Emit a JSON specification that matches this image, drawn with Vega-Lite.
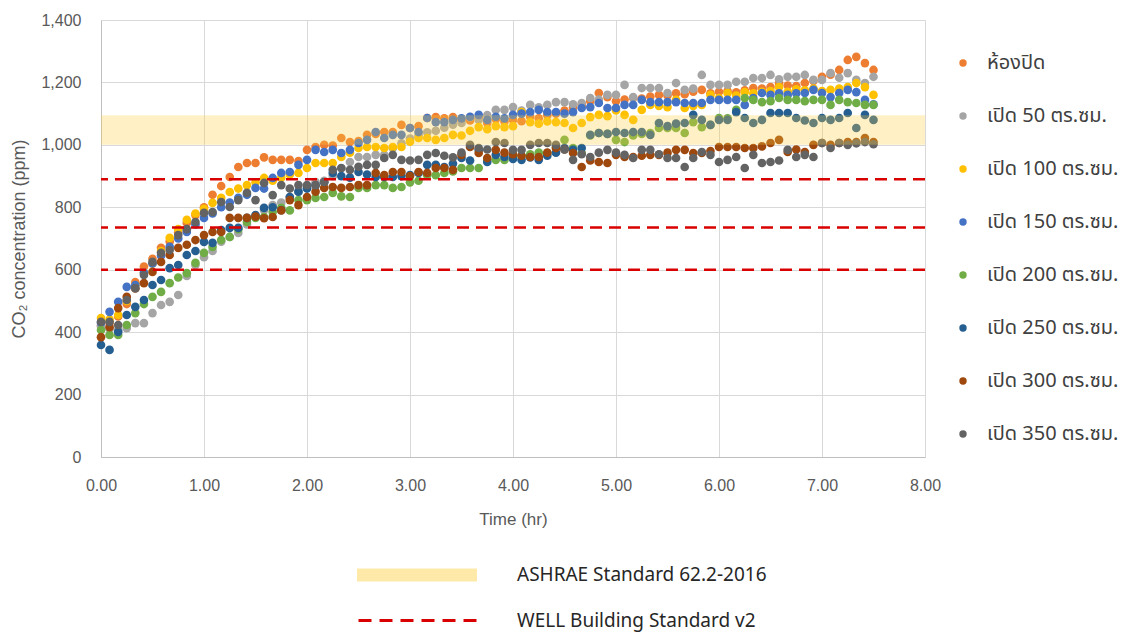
{
"$schema":"https://vega.github.io/schema/vega-lite/v6.json",
"width":824,"height":437,
"autosize":{"type":"none"},
"padding":{"left":101,"top":20,"right":206,"bottom":178},
"background":"white",
"config":{"view":{"stroke":null},
"axis":{"labelFont":"Liberation Sans Narrow, Liberation Sans, sans-serif","titleFont":"Liberation Sans Narrow, Liberation Sans, sans-serif","labelColor":"#595959","titleColor":"#595959","labelFontSize":16,"titleFontSize":17,"titleFontWeight":"normal","ticks":false,"domainColor":"#BFBFBF","gridColor":"#D9D9D9","labelFlush":false,"labelOverlap":false},
"legend":{"labelFont":"Noto Sans Thai, Noto Sans, sans-serif","labelColor":"#404040","labelFontSize":20,"labelLimit":400}},
"datasets":{
"s0":[{"t":0,"v":420},{"t":0.083,"v":430},{"t":0.167,"v":450},{"t":0.25,"v":490},{"t":0.333,"v":560},{"t":0.417,"v":610},{"t":0.5,"v":635},{"t":0.583,"v":670},{"t":0.667,"v":690},{"t":0.75,"v":720},{"t":0.833,"v":750},{"t":0.917,"v":775},{"t":1,"v":800},{"t":1.083,"v":840},{"t":1.167,"v":868},{"t":1.25,"v":897},{"t":1.333,"v":929},{"t":1.417,"v":942},{"t":1.5,"v":942},{"t":1.583,"v":960},{"t":1.667,"v":952},{"t":1.75,"v":952},{"t":1.833,"v":952},{"t":1.917,"v":948},{"t":2,"v":984},{"t":2.083,"v":993},{"t":2.167,"v":1000},{"t":2.25,"v":998},{"t":2.333,"v":1022},{"t":2.417,"v":1009},{"t":2.5,"v":1012},{"t":2.583,"v":1032},{"t":2.667,"v":1035},{"t":2.75,"v":1041},{"t":2.833,"v":1041},{"t":2.917,"v":1064},{"t":3,"v":1054},{"t":3.083,"v":1060},{"t":3.167,"v":1086},{"t":3.25,"v":1089},{"t":3.333,"v":1085},{"t":3.417,"v":1089},{"t":3.5,"v":1080},{"t":3.583,"v":1078},{"t":3.667,"v":1085},{"t":3.75,"v":1070},{"t":3.833,"v":1082},{"t":3.917,"v":1075},{"t":4,"v":1080},{"t":4.083,"v":1076},{"t":4.167,"v":1090},{"t":4.25,"v":1085},{"t":4.333,"v":1095},{"t":4.417,"v":1100},{"t":4.5,"v":1110},{"t":4.583,"v":1120},{"t":4.667,"v":1128},{"t":4.75,"v":1140},{"t":4.833,"v":1166},{"t":4.917,"v":1153},{"t":5,"v":1140},{"t":5.083,"v":1145},{"t":5.167,"v":1150},{"t":5.25,"v":1148},{"t":5.333,"v":1155},{"t":5.417,"v":1160},{"t":5.5,"v":1158},{"t":5.583,"v":1165},{"t":5.667,"v":1162},{"t":5.75,"v":1170},{"t":5.833,"v":1176},{"t":5.917,"v":1165},{"t":6,"v":1170},{"t":6.083,"v":1172},{"t":6.167,"v":1168},{"t":6.25,"v":1175},{"t":6.333,"v":1182},{"t":6.417,"v":1180},{"t":6.5,"v":1185},{"t":6.583,"v":1198},{"t":6.667,"v":1190},{"t":6.75,"v":1188},{"t":6.833,"v":1198},{"t":6.917,"v":1205},{"t":7,"v":1218},{"t":7.083,"v":1225},{"t":7.167,"v":1240},{"t":7.25,"v":1272},{"t":7.333,"v":1282},{"t":7.417,"v":1262},{"t":7.5,"v":1240}],
"s1":[{"t":0,"v":420},{"t":0.083,"v":410},{"t":0.167,"v":408},{"t":0.25,"v":413},{"t":0.333,"v":429},{"t":0.417,"v":429},{"t":0.5,"v":461},{"t":0.583,"v":487},{"t":0.667,"v":497},{"t":0.75,"v":519},{"t":0.833,"v":580},{"t":0.917,"v":615},{"t":1,"v":640},{"t":1.083,"v":660},{"t":1.167,"v":690},{"t":1.25,"v":705},{"t":1.333,"v":718},{"t":1.417,"v":745},{"t":1.5,"v":770},{"t":1.583,"v":791},{"t":1.667,"v":807},{"t":1.75,"v":815},{"t":1.833,"v":833},{"t":1.917,"v":850},{"t":2,"v":862},{"t":2.083,"v":881},{"t":2.167,"v":885},{"t":2.25,"v":900},{"t":2.333,"v":925},{"t":2.417,"v":945},{"t":2.5,"v":961},{"t":2.583,"v":961},{"t":2.667,"v":968},{"t":2.75,"v":968},{"t":2.833,"v":990},{"t":2.917,"v":1005},{"t":3,"v":1020},{"t":3.083,"v":1030},{"t":3.167,"v":1040},{"t":3.25,"v":1045},{"t":3.333,"v":1055},{"t":3.417,"v":1065},{"t":3.5,"v":1070},{"t":3.583,"v":1089},{"t":3.667,"v":1080},{"t":3.75,"v":1095},{"t":3.833,"v":1112},{"t":3.917,"v":1112},{"t":4,"v":1121},{"t":4.083,"v":1110},{"t":4.167,"v":1128},{"t":4.25,"v":1120},{"t":4.333,"v":1128},{"t":4.417,"v":1137},{"t":4.5,"v":1137},{"t":4.583,"v":1130},{"t":4.667,"v":1134},{"t":4.75,"v":1150},{"t":4.833,"v":1145},{"t":4.917,"v":1160},{"t":5,"v":1160},{"t":5.083,"v":1192},{"t":5.167,"v":1153},{"t":5.25,"v":1182},{"t":5.333,"v":1182},{"t":5.417,"v":1182},{"t":5.5,"v":1166},{"t":5.583,"v":1198},{"t":5.667,"v":1176},{"t":5.75,"v":1180},{"t":5.833,"v":1224},{"t":5.917,"v":1192},{"t":6,"v":1192},{"t":6.083,"v":1192},{"t":6.167,"v":1202},{"t":6.25,"v":1202},{"t":6.333,"v":1214},{"t":6.417,"v":1214},{"t":6.5,"v":1224},{"t":6.583,"v":1210},{"t":6.667,"v":1218},{"t":6.75,"v":1218},{"t":6.833,"v":1224},{"t":6.917,"v":1208},{"t":7,"v":1208},{"t":7.083,"v":1230},{"t":7.167,"v":1215},{"t":7.25,"v":1230},{"t":7.333,"v":1208},{"t":7.417,"v":1198},{"t":7.5,"v":1218}],
"s2":[{"t":0,"v":445},{"t":0.083,"v":440},{"t":0.167,"v":455},{"t":0.25,"v":500},{"t":0.333,"v":550},{"t":0.417,"v":590},{"t":0.5,"v":620},{"t":0.583,"v":660},{"t":0.667,"v":702},{"t":0.75,"v":730},{"t":0.833,"v":760},{"t":0.917,"v":780},{"t":1,"v":795},{"t":1.083,"v":814},{"t":1.167,"v":830},{"t":1.25,"v":849},{"t":1.333,"v":860},{"t":1.417,"v":871},{"t":1.5,"v":880},{"t":1.583,"v":894},{"t":1.667,"v":885},{"t":1.75,"v":895},{"t":1.833,"v":905},{"t":1.917,"v":910},{"t":2,"v":926},{"t":2.083,"v":942},{"t":2.167,"v":942},{"t":2.25,"v":942},{"t":2.333,"v":961},{"t":2.417,"v":975},{"t":2.5,"v":990},{"t":2.583,"v":993},{"t":2.667,"v":993},{"t":2.75,"v":990},{"t":2.833,"v":993},{"t":2.917,"v":993},{"t":3,"v":1010},{"t":3.083,"v":1022},{"t":3.167,"v":1022},{"t":3.25,"v":1016},{"t":3.333,"v":1022},{"t":3.417,"v":1032},{"t":3.5,"v":1030},{"t":3.583,"v":1045},{"t":3.667,"v":1057},{"t":3.75,"v":1050},{"t":3.833,"v":1060},{"t":3.917,"v":1057},{"t":4,"v":1060},{"t":4.083,"v":1105},{"t":4.167,"v":1073},{"t":4.25,"v":1068},{"t":4.333,"v":1075},{"t":4.417,"v":1073},{"t":4.5,"v":1070},{"t":4.583,"v":1054},{"t":4.667,"v":1070},{"t":4.75,"v":1089},{"t":4.833,"v":1096},{"t":4.917,"v":1092},{"t":5,"v":1110},{"t":5.083,"v":1096},{"t":5.167,"v":1080},{"t":5.25,"v":1112},{"t":5.333,"v":1128},{"t":5.417,"v":1125},{"t":5.5,"v":1121},{"t":5.583,"v":1144},{"t":5.667,"v":1118},{"t":5.75,"v":1125},{"t":5.833,"v":1128},{"t":5.917,"v":1160},{"t":6,"v":1150},{"t":6.083,"v":1166},{"t":6.167,"v":1158},{"t":6.25,"v":1169},{"t":6.333,"v":1165},{"t":6.417,"v":1170},{"t":6.5,"v":1172},{"t":6.583,"v":1185},{"t":6.667,"v":1170},{"t":6.75,"v":1178},{"t":6.833,"v":1175},{"t":6.917,"v":1180},{"t":7,"v":1172},{"t":7.083,"v":1176},{"t":7.167,"v":1180},{"t":7.25,"v":1185},{"t":7.333,"v":1198},{"t":7.417,"v":1185},{"t":7.5,"v":1160}],
"s3":[{"t":0,"v":430},{"t":0.083,"v":465},{"t":0.167,"v":497},{"t":0.25,"v":545},{"t":0.333,"v":551},{"t":0.417,"v":590},{"t":0.5,"v":620},{"t":0.583,"v":645},{"t":0.667,"v":673},{"t":0.75,"v":700},{"t":0.833,"v":721},{"t":0.917,"v":745},{"t":1,"v":766},{"t":1.083,"v":780},{"t":1.167,"v":800},{"t":1.25,"v":815},{"t":1.333,"v":830},{"t":1.417,"v":840},{"t":1.5,"v":862},{"t":1.583,"v":860},{"t":1.667,"v":894},{"t":1.75,"v":910},{"t":1.833,"v":913},{"t":1.917,"v":936},{"t":2,"v":952},{"t":2.083,"v":984},{"t":2.167,"v":977},{"t":2.25,"v":984},{"t":2.333,"v":974},{"t":2.417,"v":984},{"t":2.5,"v":1006},{"t":2.583,"v":1016},{"t":2.667,"v":1041},{"t":2.75,"v":1022},{"t":2.833,"v":1032},{"t":2.917,"v":1032},{"t":3,"v":1054},{"t":3.083,"v":1041},{"t":3.167,"v":1086},{"t":3.25,"v":1073},{"t":3.333,"v":1073},{"t":3.417,"v":1080},{"t":3.5,"v":1085},{"t":3.583,"v":1090},{"t":3.667,"v":1096},{"t":3.75,"v":1080},{"t":3.833,"v":1090},{"t":3.917,"v":1085},{"t":4,"v":1096},{"t":4.083,"v":1100},{"t":4.167,"v":1105},{"t":4.25,"v":1112},{"t":4.333,"v":1105},{"t":4.417,"v":1105},{"t":4.5,"v":1100},{"t":4.583,"v":1105},{"t":4.667,"v":1118},{"t":4.75,"v":1121},{"t":4.833,"v":1134},{"t":4.917,"v":1118},{"t":5,"v":1118},{"t":5.083,"v":1128},{"t":5.167,"v":1128},{"t":5.25,"v":1144},{"t":5.333,"v":1137},{"t":5.417,"v":1137},{"t":5.5,"v":1137},{"t":5.583,"v":1137},{"t":5.667,"v":1134},{"t":5.75,"v":1134},{"t":5.833,"v":1134},{"t":5.917,"v":1144},{"t":6,"v":1144},{"t":6.083,"v":1144},{"t":6.167,"v":1144},{"t":6.25,"v":1128},{"t":6.333,"v":1150},{"t":6.417,"v":1166},{"t":6.5,"v":1160},{"t":6.583,"v":1165},{"t":6.667,"v":1160},{"t":6.75,"v":1165},{"t":6.833,"v":1166},{"t":6.917,"v":1176},{"t":7,"v":1166},{"t":7.083,"v":1153},{"t":7.167,"v":1166},{"t":7.25,"v":1176},{"t":7.333,"v":1169},{"t":7.417,"v":1144},{"t":7.5,"v":1130}],
"s4":[{"t":0,"v":407},{"t":0.083,"v":391},{"t":0.167,"v":391},{"t":0.25,"v":423},{"t":0.333,"v":461},{"t":0.417,"v":490},{"t":0.5,"v":513},{"t":0.583,"v":529},{"t":0.667,"v":557},{"t":0.75,"v":575},{"t":0.833,"v":589},{"t":0.917,"v":622},{"t":1,"v":654},{"t":1.083,"v":673},{"t":1.167,"v":695},{"t":1.25,"v":705},{"t":1.333,"v":730},{"t":1.417,"v":753},{"t":1.5,"v":766},{"t":1.583,"v":769},{"t":1.667,"v":785},{"t":1.75,"v":798},{"t":1.833,"v":790},{"t":1.917,"v":823},{"t":2,"v":823},{"t":2.083,"v":830},{"t":2.167,"v":833},{"t":2.25,"v":846},{"t":2.333,"v":835},{"t":2.417,"v":833},{"t":2.5,"v":862},{"t":2.583,"v":862},{"t":2.667,"v":871},{"t":2.75,"v":871},{"t":2.833,"v":862},{"t":2.917,"v":865},{"t":3,"v":880},{"t":3.083,"v":885},{"t":3.167,"v":903},{"t":3.25,"v":903},{"t":3.333,"v":910},{"t":3.417,"v":915},{"t":3.5,"v":926},{"t":3.583,"v":926},{"t":3.667,"v":926},{"t":3.75,"v":952},{"t":3.833,"v":952},{"t":3.917,"v":952},{"t":4,"v":968},{"t":4.083,"v":965},{"t":4.167,"v":970},{"t":4.25,"v":975},{"t":4.333,"v":974},{"t":4.417,"v":993},{"t":4.5,"v":1016},{"t":4.583,"v":990},{"t":4.667,"v":974},{"t":4.75,"v":1030},{"t":4.833,"v":1038},{"t":4.917,"v":1035},{"t":5,"v":1016},{"t":5.083,"v":1009},{"t":5.167,"v":1030},{"t":5.25,"v":1035},{"t":5.333,"v":1038},{"t":5.417,"v":1054},{"t":5.5,"v":1054},{"t":5.583,"v":1054},{"t":5.667,"v":1038},{"t":5.75,"v":1073},{"t":5.833,"v":1057},{"t":5.917,"v":1064},{"t":6,"v":1086},{"t":6.083,"v":1085},{"t":6.167,"v":1112},{"t":6.25,"v":1150},{"t":6.333,"v":1144},{"t":6.417,"v":1137},{"t":6.5,"v":1140},{"t":6.583,"v":1150},{"t":6.667,"v":1144},{"t":6.75,"v":1144},{"t":6.833,"v":1140},{"t":6.917,"v":1144},{"t":7,"v":1144},{"t":7.083,"v":1128},{"t":7.167,"v":1144},{"t":7.25,"v":1137},{"t":7.333,"v":1134},{"t":7.417,"v":1128},{"t":7.5,"v":1128}],
"s5":[{"t":0,"v":359},{"t":0.083,"v":343},{"t":0.167,"v":401},{"t":0.25,"v":455},{"t":0.333,"v":481},{"t":0.417,"v":503},{"t":0.5,"v":551},{"t":0.583,"v":567},{"t":0.667,"v":605},{"t":0.75,"v":615},{"t":0.833,"v":647},{"t":0.917,"v":660},{"t":1,"v":689},{"t":1.083,"v":686},{"t":1.167,"v":727},{"t":1.25,"v":734},{"t":1.333,"v":734},{"t":1.417,"v":766},{"t":1.5,"v":775},{"t":1.583,"v":798},{"t":1.667,"v":800},{"t":1.75,"v":791},{"t":1.833,"v":833},{"t":1.917,"v":850},{"t":2,"v":860},{"t":2.083,"v":870},{"t":2.167,"v":880},{"t":2.25,"v":910},{"t":2.333,"v":900},{"t":2.417,"v":895},{"t":2.5,"v":913},{"t":2.583,"v":905},{"t":2.667,"v":897},{"t":2.75,"v":897},{"t":2.833,"v":897},{"t":2.917,"v":900},{"t":3,"v":903},{"t":3.083,"v":910},{"t":3.167,"v":936},{"t":3.25,"v":936},{"t":3.333,"v":929},{"t":3.417,"v":940},{"t":3.5,"v":958},{"t":3.583,"v":950},{"t":3.667,"v":984},{"t":3.75,"v":945},{"t":3.833,"v":968},{"t":3.917,"v":961},{"t":4,"v":955},{"t":4.083,"v":952},{"t":4.167,"v":960},{"t":4.25,"v":952},{"t":4.333,"v":965},{"t":4.417,"v":975},{"t":4.5,"v":990},{"t":4.583,"v":984},{"t":4.667,"v":990},{"t":4.75,"v":1032},{"t":4.833,"v":1038},{"t":4.917,"v":1035},{"t":5,"v":1041},{"t":5.083,"v":1038},{"t":5.167,"v":1041},{"t":5.25,"v":1041},{"t":5.333,"v":1032},{"t":5.417,"v":1070},{"t":5.5,"v":1060},{"t":5.583,"v":1068},{"t":5.667,"v":1070},{"t":5.75,"v":1096},{"t":5.833,"v":1080},{"t":5.917,"v":1064},{"t":6,"v":1080},{"t":6.083,"v":1080},{"t":6.167,"v":1105},{"t":6.25,"v":1086},{"t":6.333,"v":1070},{"t":6.417,"v":1080},{"t":6.5,"v":1102},{"t":6.583,"v":1102},{"t":6.667,"v":1102},{"t":6.75,"v":1086},{"t":6.833,"v":1078},{"t":6.917,"v":1070},{"t":7,"v":1086},{"t":7.083,"v":1080},{"t":7.167,"v":1086},{"t":7.25,"v":1102},{"t":7.333,"v":1054},{"t":7.417,"v":1096},{"t":7.5,"v":1080}],
"s6":[{"t":0,"v":384},{"t":0.083,"v":416},{"t":0.167,"v":477},{"t":0.25,"v":513},{"t":0.333,"v":540},{"t":0.417,"v":557},{"t":0.5,"v":593},{"t":0.583,"v":625},{"t":0.667,"v":647},{"t":0.75,"v":670},{"t":0.833,"v":680},{"t":0.917,"v":695},{"t":1,"v":711},{"t":1.083,"v":721},{"t":1.167,"v":721},{"t":1.25,"v":766},{"t":1.333,"v":766},{"t":1.417,"v":766},{"t":1.5,"v":770},{"t":1.583,"v":765},{"t":1.667,"v":769},{"t":1.75,"v":790},{"t":1.833,"v":823},{"t":1.917,"v":807},{"t":2,"v":833},{"t":2.083,"v":850},{"t":2.167,"v":862},{"t":2.25,"v":865},{"t":2.333,"v":862},{"t":2.417,"v":865},{"t":2.5,"v":871},{"t":2.583,"v":871},{"t":2.667,"v":910},{"t":2.75,"v":903},{"t":2.833,"v":913},{"t":2.917,"v":913},{"t":3,"v":900},{"t":3.083,"v":913},{"t":3.167,"v":910},{"t":3.25,"v":926},{"t":3.333,"v":926},{"t":3.417,"v":920},{"t":3.5,"v":968},{"t":3.583,"v":993},{"t":3.667,"v":974},{"t":3.75,"v":958},{"t":3.833,"v":984},{"t":3.917,"v":975},{"t":4,"v":970},{"t":4.083,"v":965},{"t":4.167,"v":961},{"t":4.25,"v":961},{"t":4.333,"v":975},{"t":4.417,"v":990},{"t":4.5,"v":985},{"t":4.583,"v":974},{"t":4.667,"v":929},{"t":4.75,"v":950},{"t":4.833,"v":945},{"t":4.917,"v":942},{"t":5,"v":968},{"t":5.083,"v":961},{"t":5.167,"v":961},{"t":5.25,"v":965},{"t":5.333,"v":968},{"t":5.417,"v":968},{"t":5.5,"v":975},{"t":5.583,"v":984},{"t":5.667,"v":984},{"t":5.75,"v":974},{"t":5.833,"v":974},{"t":5.917,"v":980},{"t":6,"v":993},{"t":6.083,"v":993},{"t":6.167,"v":993},{"t":6.25,"v":990},{"t":6.333,"v":990},{"t":6.417,"v":995},{"t":6.5,"v":1006},{"t":6.583,"v":1016},{"t":6.667,"v":977},{"t":6.75,"v":985},{"t":6.833,"v":977},{"t":6.917,"v":1000},{"t":7,"v":1006},{"t":7.083,"v":1000},{"t":7.167,"v":1006},{"t":7.25,"v":1009},{"t":7.333,"v":1009},{"t":7.417,"v":1022},{"t":7.5,"v":1009}],
"s7":[{"t":0,"v":433},{"t":0.083,"v":433},{"t":0.167,"v":423},{"t":0.25,"v":503},{"t":0.333,"v":541},{"t":0.417,"v":583},{"t":0.5,"v":625},{"t":0.583,"v":654},{"t":0.667,"v":663},{"t":0.75,"v":711},{"t":0.833,"v":730},{"t":0.917,"v":753},{"t":1,"v":782},{"t":1.083,"v":785},{"t":1.167,"v":817},{"t":1.25,"v":801},{"t":1.333,"v":823},{"t":1.417,"v":846},{"t":1.5,"v":823},{"t":1.583,"v":878},{"t":1.667,"v":839},{"t":1.75,"v":871},{"t":1.833,"v":860},{"t":1.917,"v":871},{"t":2,"v":871},{"t":2.083,"v":871},{"t":2.167,"v":881},{"t":2.25,"v":920},{"t":2.333,"v":926},{"t":2.417,"v":920},{"t":2.5,"v":930},{"t":2.583,"v":936},{"t":2.667,"v":936},{"t":2.75,"v":958},{"t":2.833,"v":968},{"t":2.917,"v":952},{"t":3,"v":950},{"t":3.083,"v":952},{"t":3.167,"v":968},{"t":3.25,"v":974},{"t":3.333,"v":965},{"t":3.417,"v":960},{"t":3.5,"v":975},{"t":3.583,"v":1000},{"t":3.667,"v":990},{"t":3.75,"v":985},{"t":3.833,"v":1009},{"t":3.917,"v":1006},{"t":4,"v":984},{"t":4.083,"v":984},{"t":4.167,"v":1000},{"t":4.25,"v":1006},{"t":4.333,"v":1006},{"t":4.417,"v":1000},{"t":4.5,"v":985},{"t":4.583,"v":952},{"t":4.667,"v":970},{"t":4.75,"v":961},{"t":4.833,"v":975},{"t":4.917,"v":984},{"t":5,"v":975},{"t":5.083,"v":968},{"t":5.167,"v":958},{"t":5.25,"v":984},{"t":5.333,"v":984},{"t":5.417,"v":970},{"t":5.5,"v":958},{"t":5.583,"v":958},{"t":5.667,"v":929},{"t":5.75,"v":958},{"t":5.833,"v":977},{"t":5.917,"v":968},{"t":6,"v":945},{"t":6.083,"v":952},{"t":6.167,"v":961},{"t":6.25,"v":926},{"t":6.333,"v":968},{"t":6.417,"v":942},{"t":6.5,"v":945},{"t":6.583,"v":950},{"t":6.667,"v":984},{"t":6.75,"v":961},{"t":6.833,"v":968},{"t":6.917,"v":961},{"t":7,"v":1006},{"t":7.083,"v":990},{"t":7.167,"v":1006},{"t":7.25,"v":1000},{"t":7.333,"v":1005},{"t":7.417,"v":1009},{"t":7.5,"v":1002}],
"band":[{"lo":1000,"hi":1095,"x0":0,"x1":8,"std":"ASHRAE Standard 62.2-2016"}],
"well":[{"y":600,"std":"WELL Building Standard v2"},{"y":735,"std":"WELL Building Standard v2"},{"y":890,"std":"WELL Building Standard v2"}]
},
"layer":[
{"data":{"name":"s0"},"mark":{"type":"circle","size":75,"opacity":1},
 "encoding":{
  "x":{"field":"t","type":"quantitative","scale":{"domain":[0,8],"nice":false},"axis":{"title":"Time (hr)","values":[0,1,2,3,4,5,6,7,8],"format":".2f","labelPadding":20,"titlePadding":18}},
  "y":{"field":"v","type":"quantitative","scale":{"domain":[0,1400],"nice":false},"axis":{"title":"CO₂ concentration (ppm)","titleFontSize":18,"values":[0,200,400,600,800,1000,1200,1400],"format":",.0f","labelPadding":20,"titlePadding":12}},
  "color":{"datum":"ห้องปิด","type":"nominal","scale":{"domain":["ห้องปิด","เปิด 50 ตร.ซม.","เปิด 100 ตร.ซม.","เปิด 150 ตร.ซม.","เปิด 200 ตร.ซม.","เปิด 250 ตร.ซม.","เปิด 300 ตร.ซม.","เปิด 350 ตร.ซม."],"range":["#ED7D31","#A5A5A5","#FFC000","#4472C4","#70AD47","#255E91","#9E480E","#636363"]},
   "legend":{"title":null,"orient":"none","legendX":852,"legendY":33,"symbolType":"circle","symbolSize":55,"symbolOpacity":1,"rowPadding":33,"labelOffset":14}}}},
{"data":{"name":"s1"},"mark":{"type":"circle","size":75,"opacity":1},"encoding":{"x":{"field":"t","type":"quantitative"},"y":{"field":"v","type":"quantitative"},"color":{"datum":"เปิด 50 ตร.ซม.","type":"nominal"}}},
{"data":{"name":"s2"},"mark":{"type":"circle","size":75,"opacity":1},"encoding":{"x":{"field":"t","type":"quantitative"},"y":{"field":"v","type":"quantitative"},"color":{"datum":"เปิด 100 ตร.ซม.","type":"nominal"}}},
{"data":{"name":"s3"},"mark":{"type":"circle","size":75,"opacity":1},"encoding":{"x":{"field":"t","type":"quantitative"},"y":{"field":"v","type":"quantitative"},"color":{"datum":"เปิด 150 ตร.ซม.","type":"nominal"}}},
{"data":{"name":"s4"},"mark":{"type":"circle","size":75,"opacity":1},"encoding":{"x":{"field":"t","type":"quantitative"},"y":{"field":"v","type":"quantitative"},"color":{"datum":"เปิด 200 ตร.ซม.","type":"nominal"}}},
{"data":{"name":"s5"},"mark":{"type":"circle","size":75,"opacity":1},"encoding":{"x":{"field":"t","type":"quantitative"},"y":{"field":"v","type":"quantitative"},"color":{"datum":"เปิด 250 ตร.ซม.","type":"nominal"}}},
{"data":{"name":"s6"},"mark":{"type":"circle","size":75,"opacity":1},"encoding":{"x":{"field":"t","type":"quantitative"},"y":{"field":"v","type":"quantitative"},"color":{"datum":"เปิด 300 ตร.ซม.","type":"nominal"}}},
{"data":{"name":"s7"},"mark":{"type":"circle","size":75,"opacity":1},"encoding":{"x":{"field":"t","type":"quantitative"},"y":{"field":"v","type":"quantitative"},"color":{"datum":"เปิด 350 ตร.ซม.","type":"nominal"}}},
{"data":{"name":"band"},"mark":{"type":"rect","opacity":0.3},
 "encoding":{"x":{"field":"x0","type":"quantitative"},"x2":{"field":"x1"},"y":{"field":"lo","type":"quantitative"},"y2":{"field":"hi"},
  "fill":{"field":"std","type":"nominal","scale":{"range":["#FFCF40"]},
   "legend":{"title":null,"orient":"none","legendX":256,"legendY":495,"symbolType":"M-1,-0.11H1V0.11H-1Z","symbolSize":14400,"symbolOpacity":0.45,"symbolStrokeWidth":0,"labelOffset":40,"labelFontSize":19,"labelColor":"#262626"}}}},
{"data":{"name":"well"},"mark":{"type":"rule","strokeDash":[12,7],"strokeWidth":2.5},
 "encoding":{"y":{"field":"y","type":"quantitative"},
  "stroke":{"field":"std","type":"nominal","scale":{"range":["#D90000"]},
   "legend":{"title":null,"orient":"none","legendX":256,"legendY":539,"symbolType":"stroke","symbolSize":14400,"symbolStrokeWidth":3,"symbolDash":[13,8],"labelOffset":37,"labelFontSize":19,"labelColor":"#262626"}}}}
]
}
